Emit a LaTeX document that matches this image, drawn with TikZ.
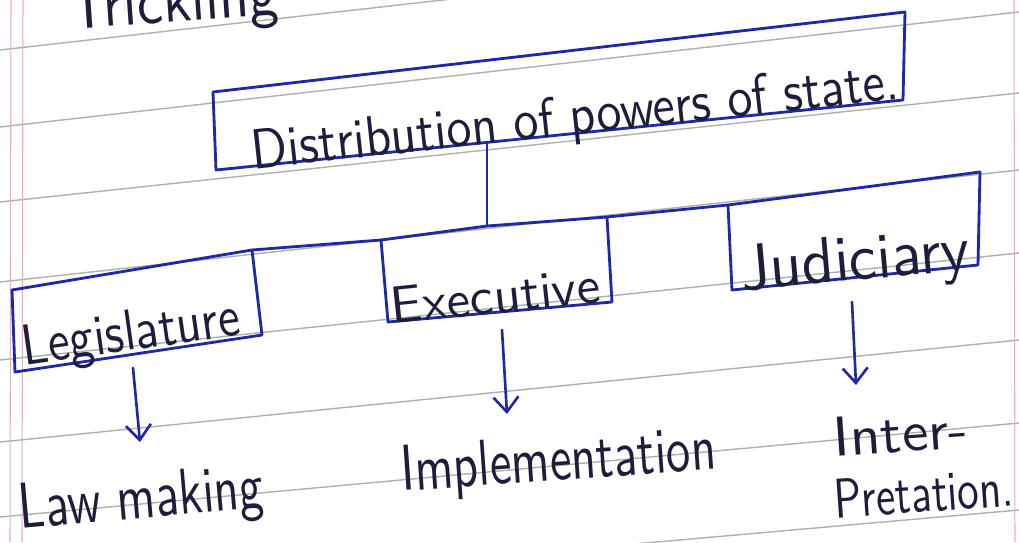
\documentclass[tikz,border=0pt]{standalone}
\usetikzlibrary{arrows.meta}
\definecolor{ink}{RGB}{32,40,165}
\definecolor{pencil}{RGB}{30,30,60}
\definecolor{rule}{RGB}{172,178,172}
\definecolor{margin}{RGB}{238,170,182}
\newcommand{\hwfit}[3]{\resizebox{#1}{#2}{#3}}
\begin{document}
\begin{tikzpicture}[x=0.02cm,y=-0.02cm,
  boxline/.style={draw=ink,line width=1.6pt,line join=round,line cap=round},
  arrowline/.style={draw=ink,line width=1.5pt,line cap=round,-{Straight Barb[length=0.3cm,width=0.5cm,line width=1.5pt]}},
  hand/.style={text=pencil,inner sep=0pt,font=\sffamily},
  ruled/.style={draw=rule,line width=0.8pt},
  marginline/.style={draw=margin,line width=0.6pt}]
\useasboundingbox (0,0) rectangle (1019,542);
\clip (0,0) rectangle (1019,542);
\fill[white] (0,0) rectangle (1019,542);
% notebook ruling
\foreach \l/\r in {50/-65,127/12,202/93,282/170,360/253,442/340,517/423,600/510}{
  \draw[ruled] (0,\l) -- (1019,\r);
}
\draw[marginline] (11,0) -- (10,542);
\draw[marginline] (23,0) -- (22,542);
\draw[marginline] (1014,0) -- (1015,542);
% heading cut off at the top
\node[hand,rotate=4,anchor=base] (head) at (175,22) {\hwfit{4.2cm}{0.9cm}{Trickling}};
% top box
\coordinate (t1) at (213,92);
\coordinate (t2) at (905,12);
\coordinate (t3) at (903,100);
\coordinate (t4) at (216,170);
\draw[boxline] (t1) -- (t2) -- (t3) -- (t4) -- cycle;
\node[hand,rotate=6.2,anchor=base] (title) at (577,134) {\hwfit{13cm}{0.8cm}{Distribution of powers of state.}};
% bracket line
\coordinate (b0) at (12,290);
\coordinate (b1) at (252,250);
\coordinate (b2) at (381,240);
\coordinate (b3) at (487,226);
\coordinate (b4) at (607,217);
\coordinate (b5) at (728,205);
\coordinate (b6) at (980,172);
\coordinate (s0) at (487,143);
\draw[boxline] (s0) -- (b3);
\draw[boxline] (b0) -- (b1) -- (b2) -- (b3) -- (b4) -- (b5) -- (b6);
% legislature box
\coordinate (l1) at (15,372);
\coordinate (l2) at (262,335);
\draw[boxline] (b0) -- (l1) -- (l2) -- (b1);
\node[hand,rotate=8,anchor=base] (leg) at (133,350) {\hwfit{4.4cm}{0.8cm}{Legislature}};
% executive box
\coordinate (e1) at (388,322);
\coordinate (e2) at (612,302);
\draw[boxline] (b2) -- (e1) -- (e2) -- (b4);
\node[hand,rotate=6,anchor=base] (exe) at (497,313) {\hwfit{4.2cm}{0.72cm}{Executive}};
% judiciary box
\coordinate (j1) at (732,290);
\coordinate (j2) at (978,265);
\draw[boxline] (b5) -- (j1) -- (j2) -- (b6);
\node[hand,rotate=5,anchor=base] (jud) at (857,280) {\hwfit{4.6cm}{0.9cm}{Judiciary}};
% outcomes
\node[hand,rotate=5,anchor=base] (law) at (143,518) {\hwfit{4.9cm}{0.9cm}{Law making}};
\node[hand,rotate=4,anchor=base] (imp) at (560,480) {\hwfit{6.3cm}{0.9cm}{Implementation}};
\node[hand,rotate=4,anchor=base] (inter) at (902,452) {\hwfit{2.7cm}{0.78cm}{Inter-}};
\node[hand,rotate=4,anchor=base] (pret) at (925,512) {\hwfit{3.6cm}{0.78cm}{Pretation.}};
% arrows
\coordinate (la) at (133,368);
\coordinate (lb) at (140,442);
\coordinate (ea) at (502,330);
\coordinate (eb) at (507,414);
\coordinate (ja) at (852,302);
\coordinate (jb) at (856,385);
\draw[arrowline] (la) -- (lb);
\draw[arrowline] (ea) -- (eb);
\draw[arrowline] (ja) -- (jb);
\end{tikzpicture}
\end{document}
